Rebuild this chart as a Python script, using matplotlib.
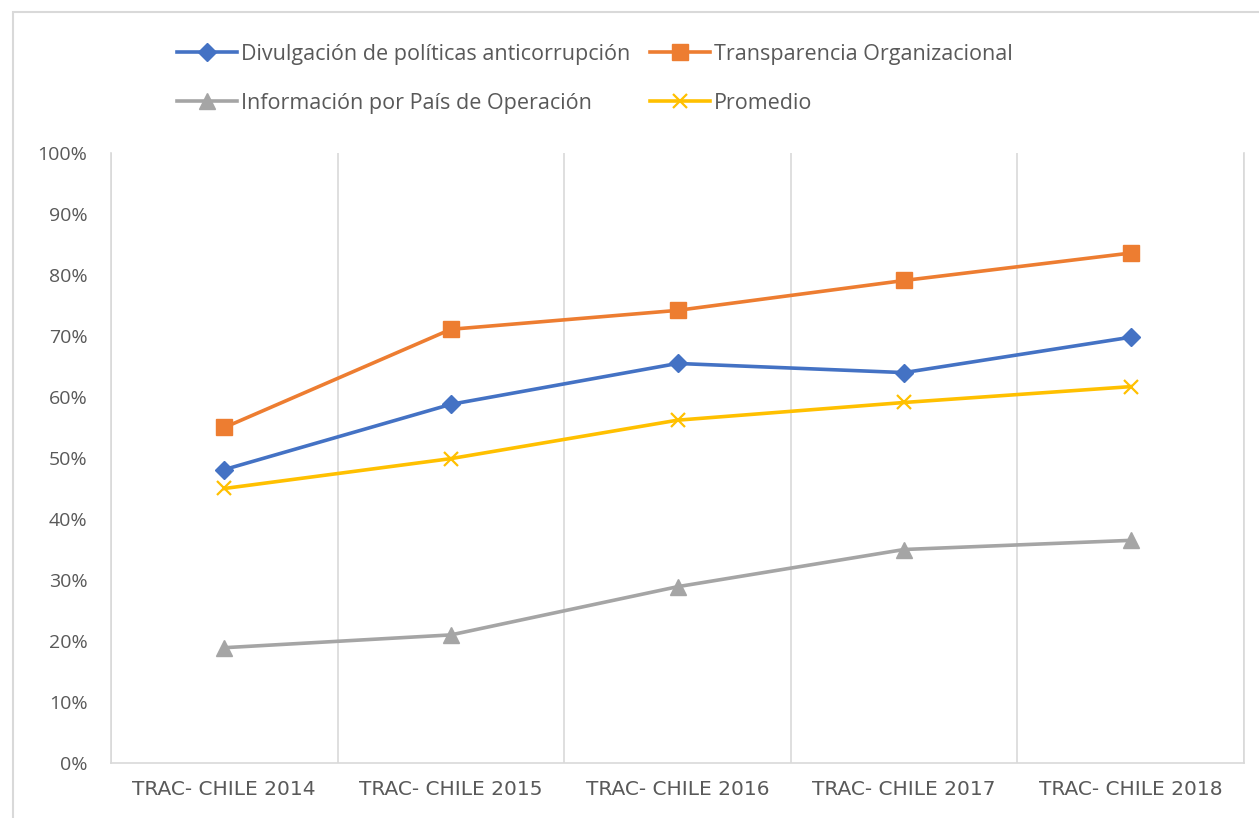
import matplotlib
matplotlib.use("Agg")
import matplotlib.pyplot as plt
from matplotlib.patches import Rectangle
from matplotlib.ticker import PercentFormatter, FixedLocator

categories = ["TRAC- CHILE 2014", "TRAC- CHILE 2015", "TRAC- CHILE 2016",
              "TRAC- CHILE 2017", "TRAC- CHILE 2018"]
divulgacion = [0.481, 0.588, 0.655, 0.640, 0.698]
transparencia = [0.550, 0.711, 0.742, 0.791, 0.836]
informacion = [0.189, 0.210, 0.289, 0.350, 0.365]
promedio = [0.450, 0.499, 0.562, 0.591, 0.617]

labels = ["Divulgación de políticas anticorrupción", "Transparencia Organizacional",
          "Información por País de Operación", "Promedio"]
colors = ["#4472C4", "#ED7D31", "#A5A5A5", "#FFC000"]

plt.rcParams['font.family'] = ['Open Sans', 'DejaVu Sans']
txt = "#595959"

fig = plt.figure(figsize=(12.59, 8.18), dpi=100)
fig.patches.append(Rectangle((13/1259, -0.1), 1.2, 1 - 12/818 + 0.1,
                             transform=fig.transFigure, fill=False,
                             edgecolor="#D9D9D9", linewidth=1.5))
ax = fig.add_axes([111/1259, 55/818, (1244-111)/1259, (763-153)/818])

x = list(range(len(categories)))
h1, = ax.plot(x, divulgacion, color=colors[0], lw=2.6, marker="D", ms=9, label=labels[0])
h2, = ax.plot(x, transparencia, color=colors[1], lw=2.6, marker="s", ms=11, label=labels[1])
h3, = ax.plot(x, informacion, color=colors[2], lw=2.6, marker="^", ms=11, label=labels[2])
h4, = ax.plot(x, promedio, color=colors[3], lw=2.6, marker="x", ms=10, mew=1.6, label=labels[3])

ax.set_xlim(-0.5, len(categories) - 0.5)
ax.set_ylim(0, 1.0)
ax.yaxis.set_major_locator(FixedLocator([i/10 for i in range(11)]))
ax.yaxis.set_major_formatter(PercentFormatter(1.0, decimals=0))
ax.set_xticks(x)
ax.set_xticklabels(categories, family=['DejaVu Sans'])
ax.set_xticks([i + 0.5 for i in range(-1, len(categories))], minor=True)
ax.grid(False)
ax.grid(True, which="minor", axis="x", color="#D9D9D9", lw=1.2)
ax.tick_params(axis="both", which="both", length=0)
ax.tick_params(axis="y", labelsize=14, labelcolor=txt, pad=17)
ax.tick_params(axis="x", labelsize=14.5, labelcolor=txt, pad=12)
for s in ["left", "right", "bottom"]:
    ax.spines[s].set_color("#D9D9D9")
    ax.spines[s].set_linewidth(1.2)
ax.spines["top"].set_visible(False)

leg_kw = dict(loc="upper left", frameon=False, fontsize=15.5, labelcolor=txt,
              handlelength=2.8, handletextpad=0.15, labelspacing=1.3, borderpad=0,
              borderaxespad=0)
leg1 = fig.legend(handles=[h1, h3], bbox_to_anchor=(177/1259, 1 - 44/818), **leg_kw)
leg2 = fig.legend(handles=[h2, h4], bbox_to_anchor=(650/1259, 1 - 44/818), **leg_kw)

fig.savefig("out.png", dpi=100)
